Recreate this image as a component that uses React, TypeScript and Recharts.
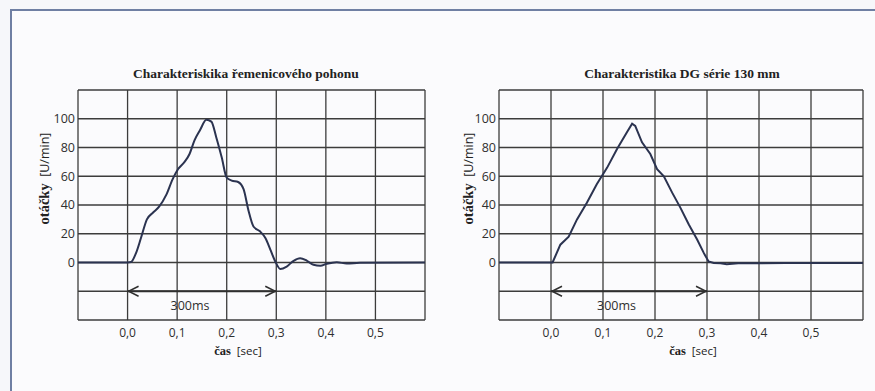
import { LineChart, Line, XAxis, YAxis, CartesianGrid, ReferenceLine } from 'recharts'

// time axis [sec], speed axis [U/min]
const timeTicks = [-0.1, 0, 0.1, 0.2, 0.3, 0.4, 0.5, 0.6]
const speedTicks = [-40, -20, 0, 20, 40, 60, 80, 100, 120]

const beltTitle = 'Charakteriskika řemenicového pohonu'
const beltTime = [
    -0.1, 0, 0.007, 0.017, 0.027, 0.039, 0.051, 0.064, 0.078, 0.091, 0.102, 0.115, 0.125, 0.135,
    0.146, 0.159, 0.169, 0.179, 0.19, 0.2, 0.21, 0.223, 0.234, 0.244, 0.254, 0.267, 0.278, 0.288,
    0.298, 0.308, 0.321, 0.335, 0.348, 0.362, 0.375, 0.389, 0.402, 0.422, 0.442, 0.469, 0.6,
]
const beltSpeed = [
    0, 0, 0.3, 6.5, 17, 30, 34.6, 39, 47, 58, 65, 70, 75.5, 85,
    92, 99.3, 98, 87, 73, 59, 57, 56, 51, 36, 25, 21.7, 17, 9,
    0.7, -4.5, -2.8, 1.2, 3, 1.2, -1.6, -2.3, -0.9, 0.2, -0.7, -0.2, 0,
]

const dgTitle = 'Charakteristika DG série 130 mm'
const dgTime = [
    -0.1, 0, 0.003, 0.018, 0.034, 0.05, 0.069, 0.088, 0.108, 0.127, 0.146, 0.156, 0.162, 0.175,
    0.191, 0.204, 0.217, 0.233, 0.249, 0.265, 0.281, 0.294, 0.303, 0.313, 0.326, 0.338, 0.36, 0.45, 0.6,
]
const dgSpeed = [
    0, 0, 0, 12.4, 18, 30, 41.6, 54.4, 66, 79, 90.6, 96.5, 95, 83.6,
    75.5, 65, 60, 48.6, 38, 26.4, 16, 6.5, 0.7, -0.3, -0.5, -1.2, -0.6, -0.4, -0.3,
]

const arrowFrom = 0
const arrowTo = 0.3
const arrowLevel = -20
const arrowText = '300ms'

const ink = '#2f2f2f'
const lineColor = '#2b3350'
const sans = '"Open Sans", sans-serif'
const serif = '"Liberation Serif", serif'

const fmtTime = (v: number) => (v < 0 || v > 0.55 ? '' : v.toFixed(1).replace('.', ','))
const fmtSpeed = (v: number) => (v < 0 || v > 100 ? '' : String(v))

function Arrow(props: any) {
    const { x1, y1, x2, y2 } = props
    const labelX = x1 + (x2 - x1) * 0.42
    return (
        <g>
            <line x1={x1} y1={y1} x2={x2} y2={y2} stroke={ink} strokeWidth={1.8} />
            <polyline points={`${x1 + 11},${y1 - 5} ${x1 + 1},${y1} ${x1 + 11},${y1 + 5}`} fill="none" stroke={ink} strokeWidth={1.5} />
            <polyline points={`${x2 - 11},${y2 - 5} ${x2 - 1},${y2} ${x2 - 11},${y2 + 5}`} fill="none" stroke={ink} strokeWidth={1.5} />
            <text x={labelX} y={y1 + 19} textAnchor="middle" fontSize={12.5} fontFamily={sans} fill={ink}>
                {arrowText}
            </text>
        </g>
    )
}

interface PanelProps {
    title: string
    time: number[]
    speed: number[]
    smooth: boolean
    left: number
    width: number
    margin: { top: number; right: number; bottom: number; left: number }
    titleX: number
    yLabelX: number
    xLabelX: number
}

function Panel({ title, time, speed, smooth, left, width, margin, titleX, yLabelX, xLabelX }: PanelProps) {
    const data = time.map((t, i) => ({ t, v: speed[i] }))
    return (
        <div style={{ position: 'absolute', left, top: 0, width, height: 391 }}>
            <div style={{ position: 'absolute', left: titleX - 200, width: 400, top: 66, textAlign: 'center', fontFamily: serif, fontWeight: 700, fontSize: 13.5, color: '#222' }}>
                {title}
            </div>
            <LineChart width={width} height={391} data={data} margin={margin}>
                <CartesianGrid stroke="#3c3c3c" strokeWidth={1.3} />
                <XAxis
                    dataKey="t"
                    type="number"
                    domain={[-0.1, 0.6]}
                    ticks={timeTicks}
                    tickFormatter={fmtTime}
                    axisLine={false}
                    tickLine={false}
                    tickSize={0}
                    tickMargin={8}
                    height={30}
                    tick={{ fontSize: 12, fontFamily: sans, fill: ink }}
                />
                <YAxis
                    type="number"
                    domain={[-40, 120]}
                    ticks={speedTicks}
                    tickFormatter={fmtSpeed}
                    axisLine={false}
                    tickLine={false}
                    tickSize={0}
                    tickMargin={3}
                    width={30}
                    tick={{ fontSize: 12.5, fontFamily: sans, fill: ink }}
                />
                <ReferenceLine
                    segment={[{ x: arrowFrom, y: arrowLevel }, { x: arrowTo, y: arrowLevel }]}
                    shape={Arrow}
                />
                <Line
                    dataKey="v"
                    type={smooth ? 'monotone' : 'linear'}
                    stroke={lineColor}
                    strokeWidth={2}
                    dot={false}
                    isAnimationActive={false}
                />
            </LineChart>
            <div style={{ position: 'absolute', left: yLabelX - 70, top: 170, width: 140, textAlign: 'center', transform: 'rotate(-90deg)', fontSize: 12.5, color: '#222', whiteSpace: 'nowrap' }}>
                <span style={{ fontFamily: serif, fontWeight: 700, fontSize: 14.5 }}>otáčky</span>
                <span style={{ fontFamily: sans }}>&nbsp; [U/min]</span>
            </div>
            <div style={{ position: 'absolute', left: xLabelX - 60, top: 343, width: 120, textAlign: 'center', fontSize: 11.5, color: '#222', whiteSpace: 'nowrap' }}>
                <span style={{ fontFamily: serif, fontWeight: 700, fontSize: 12.5 }}>čas</span>
                <span style={{ fontFamily: sans }}>&nbsp; [sec]</span>
            </div>
        </div>
    )
}

export default function App() {
    return (
        <div style={{ position: 'absolute', left: 0, top: 0, width: 875, height: 391, background: '#f6f7fa', overflow: 'hidden' }}>
            <div style={{ position: 'absolute', left: 10, top: 9, right: 0, bottom: 0, borderTop: '2px solid #6f7fa3', borderLeft: '2px solid #6f7fa3', background: '#fbfbfd' }} />
            <Panel
                title={beltTitle}
                time={beltTime}
                speed={beltSpeed}
                smooth
                left={0}
                width={440}
                margin={{ top: 90, right: 15, bottom: 41, left: 48 }}
                titleX={246}
                yLabelX={44}
                xLabelX={238}
            />
            <Panel
                title={dgTitle}
                time={dgTime}
                speed={dgSpeed}
                smooth={false}
                left={440}
                width={435}
                margin={{ top: 90, right: 12, bottom: 41, left: 29 }}
                titleX={242}
                yLabelX={28}
                xLabelX={253}
            />
        </div>
    )
}
